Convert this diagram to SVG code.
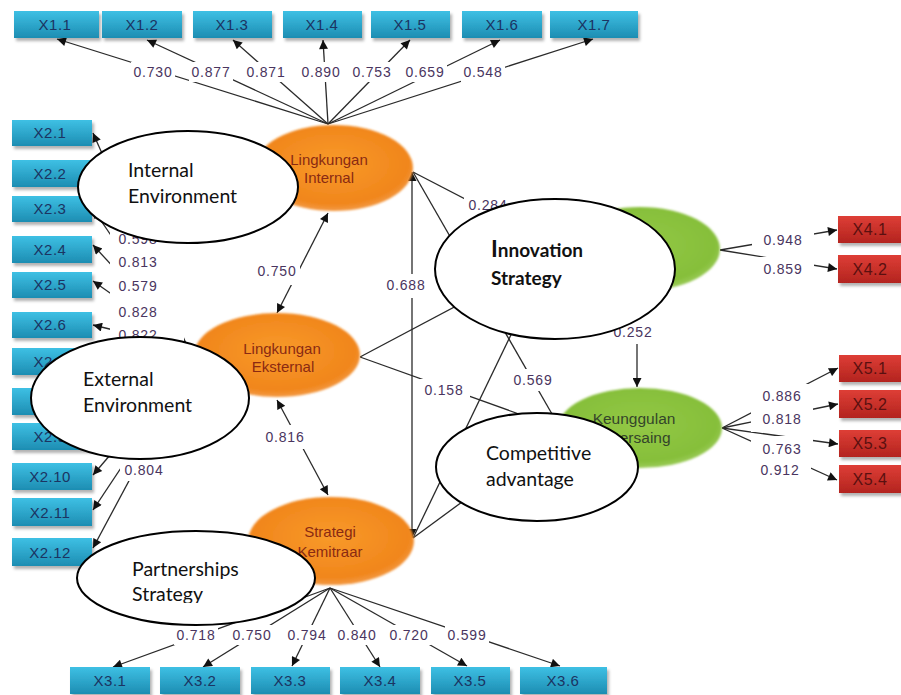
<svg xmlns="http://www.w3.org/2000/svg" width="901" height="695" viewBox="0 0 901 695">
<style>
.ln{stroke:#2a2a2a;stroke-width:1.3;fill:none}
.lb{font-family:"Liberation Sans",Arial,sans-serif;font-size:14px;fill:#4a3560;text-anchor:middle;letter-spacing:0.8px}
.bg{fill:#ffffff}
.bb{fill:url(#gb);filter:url(#sh)}
.rb{fill:url(#gr);filter:url(#sh)}
.bt{font-family:"Liberation Sans",Arial,sans-serif;font-size:15px;fill:#1b3462;text-anchor:middle;letter-spacing:0.5px}
.rt{font-family:"Liberation Sans",Arial,sans-serif;font-size:16px;fill:#5a1010;text-anchor:middle;letter-spacing:0.5px}
.ot{font-family:"Liberation Sans",Arial,sans-serif;font-size:15px;fill:#8a2a12;text-anchor:middle}
.gt{font-family:"Liberation Sans",Arial,sans-serif;font-size:15.5px;fill:#34452a;text-anchor:middle}
.we{fill:#ffffff;stroke:#000;stroke-width:2}
.wt{font-family:Lato,"Open Sans",sans-serif;font-size:19.5px;fill:#111}
.wtb{font-family:Lato,"Open Sans",sans-serif;font-size:19px;font-weight:bold;fill:#111}
</style>
<defs>
<linearGradient id="gb" x1="0" y1="0" x2="0" y2="1"><stop offset="0" stop-color="#3ec0e4"/><stop offset="1" stop-color="#1d8db2"/></linearGradient>
<linearGradient id="gr" x1="0" y1="0" x2="0" y2="1"><stop offset="0" stop-color="#de3e36"/><stop offset="1" stop-color="#b3241f"/></linearGradient>
<radialGradient id="go" cx="0.5" cy="0.45" r="0.55"><stop offset="0" stop-color="#f89a2a"/><stop offset="0.85" stop-color="#f1861c"/><stop offset="1" stop-color="#f39a45"/></radialGradient>
<radialGradient id="gg" cx="0.5" cy="0.45" r="0.55"><stop offset="0" stop-color="#93c846"/><stop offset="0.85" stop-color="#86bf3a"/><stop offset="1" stop-color="#9ccc5a"/></radialGradient>
<filter id="sh" x="-10%" y="-20%" width="130%" height="160%"><feDropShadow dx="2" dy="3" stdDeviation="1.5" flood-color="#000" flood-opacity="0.3"/></filter>
<filter id="soft" x="-10%" y="-10%" width="120%" height="120%"><feGaussianBlur stdDeviation="1.2"/></filter>
<marker id="ah" viewBox="0 0 10 10" refX="10" refY="5" markerWidth="11" markerHeight="9" markerUnits="userSpaceOnUse" orient="auto-start-reverse"><path d="M0,0 L10,5 L0,10 z" fill="#111"/></marker>
<clipPath id="cp"><rect x="0" y="0" width="901" height="603"/></clipPath>
</defs>

<g id="connectors">
  <!-- X1 indicators -->
  <g marker-end="url(#ah)" class="ln">
    <line x1="328" y1="124" x2="57" y2="39"/>
    <line x1="328" y1="124" x2="147" y2="40"/>
    <line x1="328" y1="124" x2="233" y2="40"/>
    <line x1="328" y1="124" x2="323" y2="40"/>
    <line x1="328" y1="124" x2="410" y2="40"/>
    <line x1="328" y1="124" x2="500" y2="40"/>
    <line x1="328" y1="124" x2="593" y2="39"/>
    <!-- X2 indicators -->
    <line x1="188" y1="348" x2="93" y2="133"/>
    <line x1="188" y1="348" x2="93" y2="173"/>
    <line x1="188" y1="348" x2="93" y2="209"/>
    <line x1="188" y1="348" x2="93" y2="245"/>
    <line x1="188" y1="348" x2="93" y2="281"/>
    <line x1="188" y1="348" x2="93" y2="325"/>
    <line x1="188" y1="348" x2="93" y2="361"/>
    <line x1="188" y1="348" x2="93" y2="401"/>
    <line x1="188" y1="348" x2="93" y2="437"/>
    <line x1="198" y1="352" x2="93" y2="475"/>
    <line x1="198" y1="352" x2="93" y2="510"/>
    <line x1="198" y1="352" x2="93" y2="548"/>
    <!-- X3 indicators -->
    <line x1="330" y1="588" x2="113" y2="667"/>
    <line x1="330" y1="588" x2="203" y2="667"/>
    <line x1="330" y1="588" x2="292" y2="666"/>
    <line x1="330" y1="588" x2="380" y2="667"/>
    <line x1="330" y1="588" x2="467" y2="666"/>
    <line x1="330" y1="588" x2="560" y2="666"/>
    <!-- X4 indicators -->
    <line x1="720" y1="250" x2="837" y2="230"/>
    <line x1="720" y1="250" x2="837" y2="269"/>
    <!-- X5 indicators -->
    <line x1="722" y1="428" x2="838" y2="368"/>
    <line x1="722" y1="428" x2="838" y2="404"/>
    <line x1="722" y1="428" x2="838" y2="444"/>
    <line x1="722" y1="428" x2="837" y2="480"/>
  </g>
  <!-- structural paths -->
  <line class="ln" x1="412" y1="538" x2="412" y2="172" marker-start="url(#ah)" marker-end="url(#ah)"/>
  <line class="ln" x1="560" y1="248" x2="413" y2="172"/>
  <line class="ln" x1="552" y1="414" x2="413" y2="172"/>
  <line class="ln" x1="360" y1="357" x2="562" y2="250"/>
  <line class="ln" x1="360" y1="357" x2="558" y2="428"/>
  <line class="ln" x1="413" y1="538" x2="535" y2="285"/>
  <line class="ln" x1="413" y1="538" x2="560" y2="430"/>
  <line class="ln" x1="637" y1="291" x2="637" y2="387" marker-end="url(#ah)"/>
  <line class="ln" x1="328" y1="213" x2="277" y2="313" marker-start="url(#ah)" marker-end="url(#ah)"/>
  <line class="ln" x1="277" y1="400" x2="328" y2="495" marker-start="url(#ah)" marker-end="url(#ah)"/>

  <!-- label backgrounds -->
  <g class="bg">
    <rect x="131" y="62" width="44" height="20"/>
    <rect x="189" y="62" width="44" height="20"/>
    <rect x="244" y="62" width="44" height="20"/>
    <rect x="299" y="62" width="44" height="20"/>
    <rect x="350" y="62" width="44" height="20"/>
    <rect x="403" y="62" width="44" height="20"/>
    <rect x="461" y="62" width="44" height="20"/>
    <rect x="110" y="228" width="74" height="23"/>
    <rect x="110" y="251" width="74" height="23"/>
    <rect x="110" y="274" width="74" height="26"/>
    <rect x="110" y="300" width="74" height="24"/>
    <rect x="110" y="324" width="74" height="22"/>
    <rect x="120" y="459" width="48" height="22"/>
    <rect x="174" y="625" width="44" height="20"/>
    <rect x="230" y="625" width="44" height="20"/>
    <rect x="285" y="625" width="44" height="20"/>
    <rect x="335" y="625" width="44" height="20"/>
    <rect x="387" y="625" width="44" height="20"/>
    <rect x="445" y="625" width="44" height="20"/>
    <rect x="752" y="228" width="62" height="24"/>
    <rect x="752" y="257" width="62" height="24"/>
    <rect x="751" y="384" width="62" height="24"/>
    <rect x="751" y="408" width="62" height="24"/>
    <rect x="751" y="436" width="62" height="24"/>
    <rect x="749" y="460" width="62" height="22"/>
    <rect x="464" y="194" width="48" height="22"/>
    <rect x="383" y="274" width="48" height="24"/>
    <rect x="509" y="369" width="48" height="22"/>
    <rect x="420" y="379" width="50" height="22"/>
    <rect x="609" y="320" width="48" height="24"/>
    <rect x="254" y="259" width="46" height="26"/>
    <rect x="261" y="425" width="48" height="24"/>
  </g>
  <!-- labels -->
  <g class="lb">
    <text x="153" y="77">0.730</text>
    <text x="211" y="77">0.877</text>
    <text x="266" y="77">0.871</text>
    <text x="321" y="77">0.890</text>
    <text x="372" y="77">0.753</text>
    <text x="425" y="77">0.659</text>
    <text x="483" y="77">0.548</text>
    <text x="138" y="244">0.598</text>
    <text x="138" y="267">0.813</text>
    <text x="138" y="291">0.579</text>
    <text x="138" y="317">0.828</text>
    <text x="138" y="340">0.822</text>
    <text x="144" y="475">0.804</text>
    <text x="196" y="640">0.718</text>
    <text x="252" y="640">0.750</text>
    <text x="307" y="640">0.794</text>
    <text x="357" y="640">0.840</text>
    <text x="409" y="640">0.720</text>
    <text x="467" y="640">0.599</text>
    <text x="783" y="245">0.948</text>
    <text x="783" y="274">0.859</text>
    <text x="782" y="401">0.886</text>
    <text x="782" y="424">0.818</text>
    <text x="782" y="454">0.763</text>
    <text x="780" y="475">0.912</text>
    <text x="488" y="210">0.284</text>
    <text x="406" y="290">0.688</text>
    <text x="533" y="385">0.569</text>
    <text x="444" y="395">0.158</text>
    <text x="633" y="337">0.252</text>
    <text x="277" y="276">0.750</text>
    <text x="285" y="442">0.816</text>
  </g>
</g>

<!-- X1 boxes -->
<g id="X1_1"><rect class="bb" x="14" y="11" width="85" height="27"/><text class="bt" x="55" y="30">X1.1</text></g>
<g id="X1_2"><rect class="bb" x="102" y="11" width="80" height="27"/><text class="bt" x="142" y="30">X1.2</text></g>
<g id="X1_3"><rect class="bb" x="193" y="11" width="79" height="27"/><text class="bt" x="232" y="30">X1.3</text></g>
<g id="X1_4"><rect class="bb" x="283" y="11" width="79" height="27"/><text class="bt" x="322" y="30">X1.4</text></g>
<g id="X1_5"><rect class="bb" x="371" y="11" width="79" height="27"/><text class="bt" x="410" y="30">X1.5</text></g>
<g id="X1_6"><rect class="bb" x="462" y="11" width="80" height="27"/><text class="bt" x="502" y="30">X1.6</text></g>
<g id="X1_7"><rect class="bb" x="550" y="11" width="88" height="27"/><text class="bt" x="594" y="30">X1.7</text></g>

<!-- X2 boxes -->
<g id="X2_1"><rect class="bb" x="12" y="120" width="80" height="26"/><text class="bt" x="50" y="138">X2.1</text></g>
<g id="X2_2"><rect class="bb" x="12" y="160" width="80" height="27"/><text class="bt" x="50" y="179">X2.2</text></g>
<g id="X2_3"><rect class="bb" x="12" y="196" width="80" height="26"/><text class="bt" x="50" y="214">X2.3</text></g>
<g id="X2_4"><rect class="bb" x="12" y="236" width="80" height="27"/><text class="bt" x="50" y="255">X2.4</text></g>
<g id="X2_5"><rect class="bb" x="12" y="272" width="80" height="26"/><text class="bt" x="50" y="290">X2.5</text></g>
<g id="X2_6"><rect class="bb" x="12" y="312" width="80" height="26"/><text class="bt" x="50" y="330">X2.6</text></g>
<g id="X2_7"><rect class="bb" x="12" y="348" width="80" height="27"/><text class="bt" x="50" y="367">X2.7</text></g>
<g id="X2_8"><rect class="bb" x="12" y="388" width="80" height="27"/><text class="bt" x="50" y="407">X2.8</text></g>
<g id="X2_9"><rect class="bb" x="12" y="423" width="80" height="27"/><text class="bt" x="50" y="442">X2.9</text></g>
<g id="X2_10"><rect class="bb" x="12" y="463" width="80" height="27"/><text class="bt" x="50" y="482">X2.10</text></g>
<g id="X2_11"><rect class="bb" x="12" y="498" width="80" height="28"/><text class="bt" x="50" y="518">X2.11</text></g>
<g id="X2_12"><rect class="bb" x="12" y="538" width="80" height="28"/><text class="bt" x="50" y="558">X2.12</text></g>

<!-- X3 boxes -->
<g id="X3_1"><rect class="bb" x="70" y="667" width="80" height="27"/><text class="bt" x="110" y="686">X3.1</text></g>
<g id="X3_2"><rect class="bb" x="160" y="667" width="80" height="27"/><text class="bt" x="200" y="686">X3.2</text></g>
<g id="X3_3"><rect class="bb" x="251" y="667" width="79" height="27"/><text class="bt" x="290" y="686">X3.3</text></g>
<g id="X3_4"><rect class="bb" x="340" y="667" width="80" height="27"/><text class="bt" x="380" y="686">X3.4</text></g>
<g id="X3_5"><rect class="bb" x="431" y="667" width="79" height="27"/><text class="bt" x="470" y="686">X3.5</text></g>
<g id="X3_6"><rect class="bb" x="520" y="667" width="87" height="27"/><text class="bt" x="563" y="686">X3.6</text></g>

<!-- X4 / X5 boxes -->
<g id="X4_1"><rect class="rb" x="838" y="216" width="70" height="27"/><text class="rt" x="870" y="235">X4.1</text></g>
<g id="X4_2"><rect class="rb" x="838" y="255" width="70" height="28"/><text class="rt" x="870" y="275">X4.2</text></g>
<g id="X5_1"><rect class="rb" x="839" y="355" width="70" height="27"/><text class="rt" x="870" y="374">X5.1</text></g>
<g id="X5_2"><rect class="rb" x="839" y="390" width="70" height="28"/><text class="rt" x="870" y="410">X5.2</text></g>
<g id="X5_3"><rect class="rb" x="839" y="430" width="70" height="27"/><text class="rt" x="870" y="449">X5.3</text></g>
<g id="X5_4"><rect class="rb" x="839" y="465" width="70" height="28"/><text class="rt" x="870" y="485">X5.4</text></g>

<!-- latent variables -->
<g id="LingkunganInternal"><ellipse cx="334" cy="168" rx="79" ry="43" fill="url(#go)" filter="url(#soft)"/><text class="ot" x="329" y="165">Lingkungan</text><text class="ot" x="329" y="183">Internal</text></g>
<g id="LingkunganEksternal"><ellipse cx="277" cy="355" rx="83" ry="42" fill="url(#go)" filter="url(#soft)"/><text class="ot" x="282" y="354">Lingkungan</text><text class="ot" x="283" y="372">Eksternal</text></g>
<g id="StrategiKemitraan"><ellipse cx="331" cy="541" rx="83" ry="44" fill="url(#go)" filter="url(#soft)"/><text class="ot" x="330" y="537">Strategi</text><text class="ot" x="330" y="557">Kemitraar</text></g>
<g id="StrategiInovasi"><ellipse cx="640" cy="249" rx="80" ry="42" fill="url(#gg)" filter="url(#soft)"/></g>
<g id="KeunggulanBersaing"><ellipse cx="640" cy="428" rx="82" ry="40" fill="url(#gg)" filter="url(#soft)"/><text class="gt" x="634" y="424">Keunggulan</text><text class="gt" x="640" y="443">Bersaing</text></g>

<!-- annotation ellipses -->
<g id="InternalEnvironment"><ellipse class="we" cx="188" cy="187" rx="110" ry="56"/><text class="wt" x="128" y="177">Internal</text><text class="wt" x="128" y="203">Environment</text></g>
<g id="ExternalEnvironment"><ellipse class="we" cx="140" cy="398" rx="109" ry="61"/><text class="wt" x="83" y="386">External</text><text class="wt" x="83" y="412">Environment</text></g>
<g id="PartnershipsStrategy"><ellipse class="we" cx="196" cy="578" rx="119" ry="47"/><g clip-path="url(#cp)"><text class="wt" x="132" y="576">Partnerships</text><text class="wt" x="132" y="601">Strategy</text></g></g>
<g id="InnovationStrategy"><ellipse class="we" cx="555" cy="269" rx="120" ry="70"/><text class="wtb" x="491" y="257"><tspan font-size="23px">I</tspan>nnovation</text><text class="wtb" x="491" y="285">Strategy</text></g>
<g id="CompetitiveAdvantage"><ellipse class="we" cx="537" cy="467" rx="101" ry="54"/><text class="wt" x="486" y="460">Competitive</text><text class="wt" x="486" y="486">advantage</text></g>
</svg>
